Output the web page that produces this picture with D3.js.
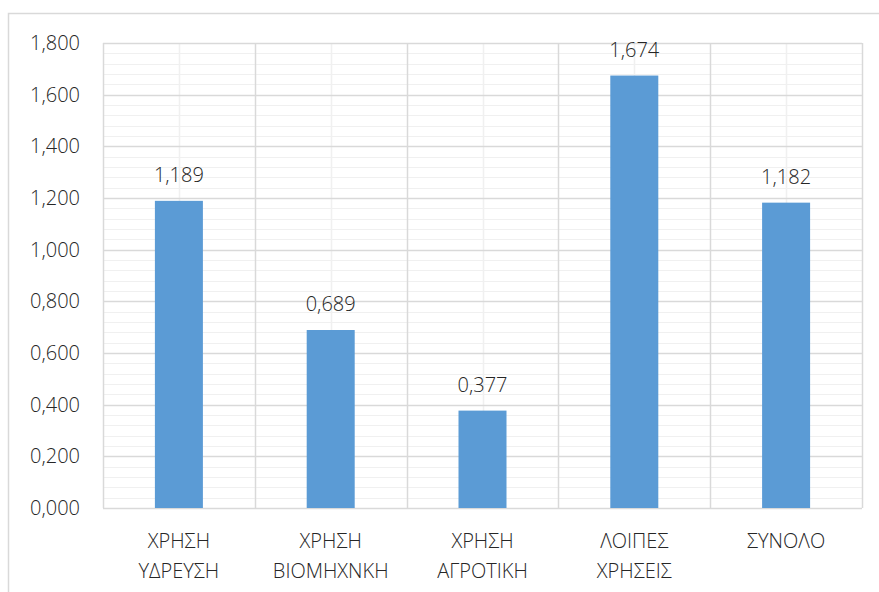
<!DOCTYPE html>
<html>
<head>
<meta charset="utf-8">
<script src="https://cdn.jsdelivr.net/npm/d3@7"></script>
<style>
  body { margin: 0; background: #fff; }
  text { font-family: "Open Sans", "Noto Sans", sans-serif; font-weight: 300; fill: #262626; }
</style>
</head>
<body>
<div id="chart"></div>
<script>
const categories = [
  ['ΧΡΗΣΗ', 'ΥΔΡΕΥΣΗ'],
  ['ΧΡΗΣΗ', 'ΒΙΟΜΗΧΝΚΗ'],
  ['ΧΡΗΣΗ', 'ΑΓΡΟΤΙΚΗ'],
  ['ΛΟΙΠΕΣ', 'ΧΡΗΣΕΙΣ'],
  ['ΣΥΝΟΛΟ']
]
const values = [1.189, 0.689, 0.377, 1.674, 1.182]
const yTicks = [0, 0.2, 0.4, 0.6, 0.8, 1.0, 1.2, 1.4, 1.6, 1.8]

const width = 879
const height = 592
const margin = { top: 43, right: 17, bottom: 84, left: 103 }

const fmt = v => d3.format('.3f')(v).replace('.', ',')

const svg = d3.select('#chart')
  .append('svg')
  .attr('width', width)
  .attr('height', height)
  .style('display', 'block')

// Chart border
svg.append('rect')
  .attr('x', 8.5)
  .attr('y', 13.5)
  .attr('width', width + 10)
  .attr('height', height + 10)
  .attr('fill', 'none')
  .attr('stroke', '#d9d9d9')
  .attr('stroke-width', 1.5)

const x = d3.scaleBand()
  .domain(d3.range(categories.length))
  .range([margin.left, width - margin.right])

const y = d3.scaleLinear()
  .domain([0, 1.8])
  .range([height - margin.bottom, margin.top])

const plot = svg.append('g')

// Minor horizontal gridlines
const minor = d3.range(0, 1.8001, 0.04)
plot.selectAll('.minor-h')
  .data(minor)
  .join('line')
  .attr('x1', x.range()[0])
  .attr('x2', x.range()[1])
  .attr('y1', d => Math.round(y(d)) + 0.5)
  .attr('y2', d => Math.round(y(d)) + 0.5)
  .attr('stroke', '#f0f0f0')
  .attr('stroke-width', 1)

// Minor vertical gridlines (category centres)
plot.selectAll('.minor-v')
  .data(x.domain())
  .join('line')
  .attr('x1', d => Math.round(x(d) + x.bandwidth() / 2) + 0.5)
  .attr('x2', d => Math.round(x(d) + x.bandwidth() / 2) + 0.5)
  .attr('y1', y(1.8))
  .attr('y2', y(0))
  .attr('stroke', '#f0f0f0')
  .attr('stroke-width', 1.5)

// Major horizontal gridlines
plot.selectAll('.major-h')
  .data(yTicks)
  .join('line')
  .attr('x1', x.range()[0])
  .attr('x2', x.range()[1])
  .attr('y1', d => Math.round(y(d)) + 0.5)
  .attr('y2', d => Math.round(y(d)) + 0.5)
  .attr('stroke', '#d9d9d9')
  .attr('stroke-width', 1.5)

// Major vertical gridlines (category boundaries)
const bounds = x.domain().map(d => x(d)).concat([x.range()[1]])
plot.selectAll('.major-v')
  .data(bounds)
  .join('line')
  .attr('x1', d => Math.round(d) + 0.5)
  .attr('x2', d => Math.round(d) + 0.5)
  .attr('y1', y(1.8))
  .attr('y2', y(0))
  .attr('stroke', '#d9d9d9')
  .attr('stroke-width', 1.5)

// Bars
const barW = 48
plot.selectAll('.bar')
  .data(values)
  .join('rect')
  .attr('x', (d, i) => x(i) + x.bandwidth() / 2 - barW / 2)
  .attr('y', d => y(d))
  .attr('width', barW)
  .attr('height', d => y(0) - y(d))
  .attr('fill', '#5b9bd5')

// Value labels
plot.selectAll('.val')
  .data(values)
  .join('text')
  .attr('x', (d, i) => x(i) + x.bandwidth() / 2)
  .attr('y', d => y(d) - 19)
  .attr('text-anchor', 'middle')
  .attr('font-size', '20px')
  .text(d => fmt(d))

// Y axis labels
const yAxis = d3.axisLeft(y)
  .tickValues(yTicks)
  .tickFormat(fmt)
  .tickSize(0)
  .tickPadding(23)
svg.append('g')
  .attr('transform', `translate(${margin.left},0)`)
  .call(yAxis)
  .call(g => g.select('.domain').remove())
  .call(g => g.selectAll('text')
    .attr('font-size', '20px')
    .attr('font-family', null)
    .attr('fill', null))

// X axis labels
const xl = svg.append('g')
  .selectAll('text')
  .data(categories)
  .join('text')
  .attr('x', (d, i) => x(i) + x.bandwidth() / 2)
  .attr('y', 548)
  .attr('text-anchor', 'middle')
  .attr('font-size', '20px')
xl.selectAll('tspan')
  .data(d => d)
  .join('tspan')
  .attr('x', function () { return d3.select(this.parentNode).attr('x') })
  .attr('dy', (d, i) => i === 0 ? 0 : 30)
  .text(d => d)
</script>
</body>
</html>
